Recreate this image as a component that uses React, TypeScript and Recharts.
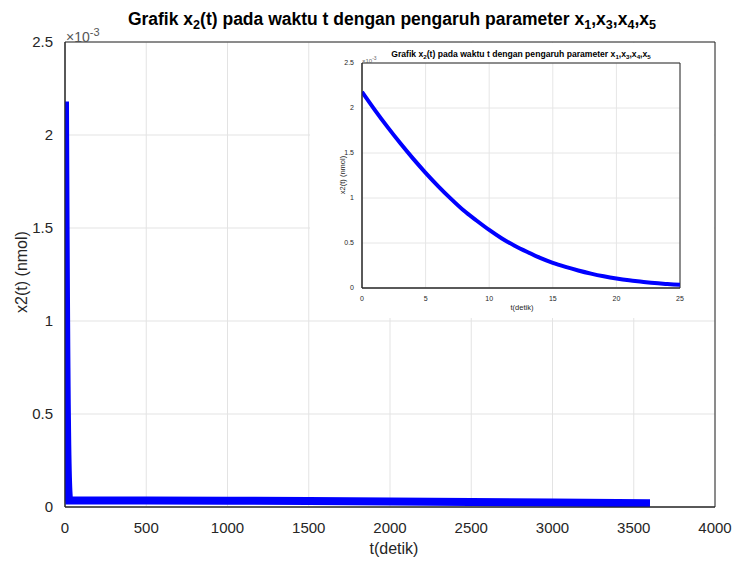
import React from 'react';
import { LineChart, Line, XAxis, YAxis, CartesianGrid, ReferenceArea } from 'recharts';

// inset (zoomed) series, t in seconds, x2 in nmol
const insetT = [0, 1, 2, 3, 4, 5, 6, 7, 8, 9, 10, 11, 12, 13, 14, 15, 16, 17, 18, 19, 20, 21, 22, 23, 24, 25];
const insetX2 = [
  2.18e-3, 1.98e-3, 1.79e-3, 1.61e-3, 1.44e-3, 1.28e-3, 1.13e-3, 0.99e-3, 0.86e-3, 0.75e-3,
  0.645e-3, 0.55e-3, 0.47e-3, 0.4e-3, 0.335e-3, 0.28e-3, 0.235e-3, 0.195e-3, 0.16e-3, 0.13e-3,
  0.105e-3, 0.085e-3, 0.07e-3, 0.055e-3, 0.045e-3, 0.035e-3,
];
// long tail of the full simulation
const tailT = [30, 500, 1000, 1500, 2000, 2500, 3000, 3600];
const tailX2 = [0.035e-3, 0.035e-3, 0.034e-3, 0.032e-3, 0.03e-3, 0.027e-3, 0.024e-3, 0.02e-3];

const mainTicksX = [0, 500, 1000, 1500, 2000, 2500, 3000, 3500, 4000];
const yTicks = [0, 0.5e-3, 1e-3, 1.5e-3, 2e-3, 2.5e-3];
const insetTicksX = [0, 5, 10, 15, 20, 25];

const insetData = insetT.map((t, i) => ({ t, x2: insetX2[i] }));
const mainData = [...insetData, ...tailT.map((t, i) => ({ t, x2: tailX2[i] }))];

const font = '"Liberation Sans", Arial, sans-serif';
const ink = '#262626';
const fmtY = (v: number) => String(+(v * 1000).toFixed(1));

const Sub = ({ children }: { children: React.ReactNode }) => (
  <sub style={{ fontSize: '0.72em', verticalAlign: '-0.35em' }}>{children}</sub>
);

const Title = () => (
  <span>
    Grafik x<Sub>2</Sub>(t) pada waktu t dengan pengaruh parameter x<Sub>1</Sub>,x<Sub>3</Sub>,x<Sub>4</Sub>,x<Sub>5</Sub>
  </span>
);

const abs = (style: React.CSSProperties): React.CSSProperties => ({
  position: 'absolute',
  fontFamily: font,
  color: ink,
  whiteSpace: 'nowrap',
  lineHeight: 1,
  ...style,
});

export default function App() {
  return (
    <div style={{ position: 'absolute', left: 0, top: 0, width: 737, height: 561, background: '#fff', fontFamily: font }}>
      <LineChart width={737} height={561} data={mainData} margin={{ top: 42, right: 22, left: 0, bottom: 0 }}>
        <CartesianGrid stroke="#e3e3e3" strokeWidth={1} />
        <XAxis
          dataKey="t"
          type="number"
          domain={[0, 4000]}
          ticks={mainTicksX}
          height={54}
          tickLine={false}
          axisLine={{ stroke: ink }}
          tickMargin={9}
          tick={{ fontSize: 15, fill: ink, fontFamily: font }}
          allowDataOverflow
        />
        <YAxis
          type="number"
          domain={[0, 2.5e-3]}
          ticks={yTicks}
          width={65}
          tickLine={false}
          axisLine={{ stroke: ink }}
          tickMargin={6}
          tickFormatter={fmtY}
          tick={{ fontSize: 15, fill: ink, fontFamily: font }}
          allowDataOverflow
        />
        <ReferenceArea x1={0} x2={4000} y1={0} y2={2.5e-3} fill="none" stroke={ink} strokeOpacity={1} />
        <Line
          dataKey="x2"
          stroke="#0000ff"
          strokeWidth={8}
          dot={false}
          type="linear"
          isAnimationActive={false}
        />
      </LineChart>

      <div style={abs({ left: 0, width: 784, top: 11, textAlign: 'center', fontSize: 17.5, fontWeight: 'bold', color: '#000' })}>
        <Title />
      </div>
      <div style={abs({ left: 66, top: 27, fontSize: 14, color: '#555' })}>
        ×10<sup style={{ fontSize: 11 }}>-3</sup>
      </div>
      <div style={abs({ left: 344, width: 100, top: 541, textAlign: 'center', fontSize: 16 })}>t(detik)</div>
      <div
        style={abs({
          left: 22,
          top: 272,
          fontSize: 16,
          transform: 'translate(-50%, -50%) rotate(-90deg)',
        })}
      >
        x2(t) (nmol)
      </div>

      {/* inset */}
      <div style={{ position: 'absolute', left: 310, top: 43, width: 404, height: 275, background: '#fff' }}>
        <LineChart width={404} height={275} data={insetData} margin={{ top: 20, right: 34, left: 0, bottom: 0 }}>
          <CartesianGrid stroke="#e6e6e6" strokeWidth={1} />
          <XAxis
            dataKey="t"
            type="number"
            domain={[0, 25]}
            ticks={insetTicksX}
            height={30}
            tickLine={false}
            axisLine={{ stroke: ink }}
            tickMargin={2}
            tick={{ fontSize: 7, fill: ink, fontFamily: font }}
            allowDataOverflow
          />
          <YAxis
            type="number"
            domain={[0, 2.5e-3]}
            ticks={yTicks}
            width={52}
            tickLine={false}
            axisLine={{ stroke: ink }}
            tickMargin={2}
            tickFormatter={fmtY}
            tick={{ fontSize: 7, fill: ink, fontFamily: font }}
            allowDataOverflow
          />
          <ReferenceArea x1={0} x2={25} y1={0} y2={2.5e-3} fill="none" stroke={ink} strokeOpacity={1} />
          <Line
            dataKey="x2"
            stroke="#0000ff"
            strokeWidth={4}
            dot={false}
            type="monotone"
            isAnimationActive={false}
          />
        </LineChart>
        <div style={abs({ left: 52, width: 318, top: 7, textAlign: 'center', fontSize: 8.6, fontWeight: 'bold', color: '#000' })}>
          <Title />
        </div>
        <div style={abs({ left: 52, top: 13, fontSize: 6, color: '#666' })}>
          ×10<sup style={{ fontSize: 5 }}>-3</sup>
        </div>
        <div style={abs({ left: 162, width: 100, top: 261, textAlign: 'center', fontSize: 7.5 })}>t(detik)</div>
        <div
          style={abs({
            left: 33,
            top: 132,
            fontSize: 7.5,
            transform: 'translate(-50%, -50%) rotate(-90deg)',
          })}
        >
          x2(t) (nmol)
        </div>
      </div>
    </div>
  );
}
